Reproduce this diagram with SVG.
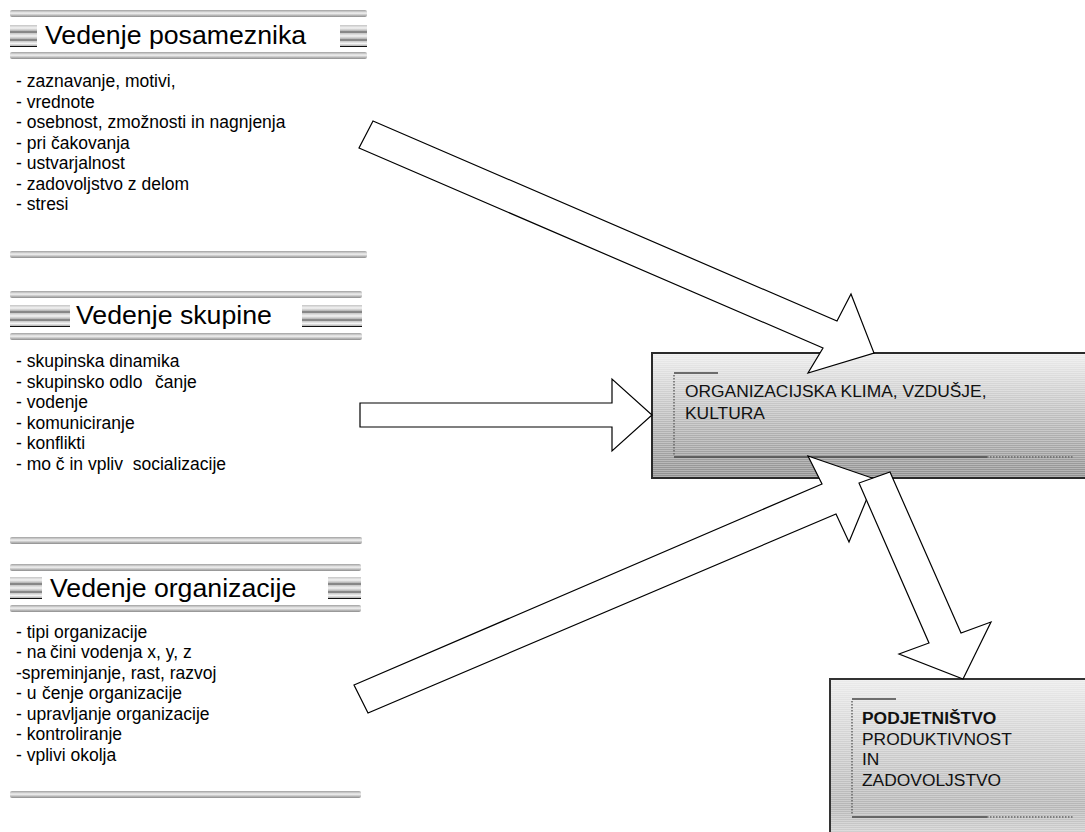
<svg xmlns="http://www.w3.org/2000/svg" width="1085" height="832" viewBox="0 0 1085 832">
  <defs>
    <!-- rounded metallic bar used for section rules -->
    <linearGradient id="tube" x1="0" y1="0" x2="0" y2="1">
      <stop offset="0" stop-color="#a0a0a0"/>
      <stop offset="0.45" stop-color="#f2f2f2"/>
      <stop offset="1" stop-color="#8c8c8c"/>
    </linearGradient>
    <!-- lighter variant for the small title ornaments -->
    <linearGradient id="tubeLight" x1="0" y1="0" x2="0" y2="1">
      <stop offset="0" stop-color="#c4c4c4"/>
      <stop offset="0.5" stop-color="#f4f4f4"/>
      <stop offset="1" stop-color="#b0b0b0"/>
    </linearGradient>
    <linearGradient id="fillKlima" x1="0" y1="0" x2="0" y2="1">
      <stop offset="0" stop-color="#ededed"/>
      <stop offset="1" stop-color="#8f8f8f"/>
    </linearGradient>
    <linearGradient id="fillPodj" x1="0" y1="0" x2="0" y2="1">
      <stop offset="0" stop-color="#ebebeb"/>
      <stop offset="0.8" stop-color="#b6b6b6"/>
      <stop offset="1" stop-color="#d6d6d6"/>
    </linearGradient>
    <!-- fine horizontal scan lines on the boxes -->
    <pattern id="scan" width="4" height="2" patternUnits="userSpaceOnUse">
      <rect width="4" height="1" fill="#ffffff" opacity="0.3"/>
    </pattern>
  </defs>
  <style>
    .bar { fill: url(#tube); }
    .orn { fill: url(#tubeLight); }
    .rule { stroke: #111; stroke-width: 1; }
    .title { font-family: "Liberation Sans", Arial, sans-serif; font-size: 26.7px; fill: #000; }
    .item { font-family: "Liberation Sans", Arial, sans-serif; font-size: 17.5px; fill: #000; }
    .boxtxt { font-family: "Liberation Sans", Arial, sans-serif; font-size: 17.4px; fill: #111; }
    .boxline { stroke: #444; stroke-width: 1.5; fill: none; }
    .boxdot { stroke: #666; stroke-width: 1.5; stroke-dasharray: 1.5 1.5; fill: none; }
    .arrow { fill: #fff; stroke: #000; stroke-width: 1.2; stroke-linejoin: miter; }
  </style>

  <rect width="1085" height="832" fill="#fff"/>

  <!-- section: individual -->
  <g id="posameznik">
    <rect class="bar" x="10" y="10" width="357" height="7" rx="2"/>
    <g>
      <rect class="orn" x="10" y="25" width="27" height="6"/>
      <line class="rule" x1="10" y1="32" x2="37" y2="32"/>
      <rect class="orn" x="10" y="33" width="27" height="6"/>
      <line class="rule" x1="10" y1="40" x2="37" y2="40"/>
      <rect class="orn" x="10" y="41" width="27" height="5"/>
      <line class="rule" x1="10" y1="46.5" x2="37" y2="46.5"/>
    </g>
    <g>
      <rect class="orn" x="340" y="25" width="27" height="6"/>
      <line class="rule" x1="340" y1="32" x2="367" y2="32"/>
      <rect class="orn" x="340" y="33" width="27" height="6"/>
      <line class="rule" x1="340" y1="40" x2="367" y2="40"/>
      <rect class="orn" x="340" y="41" width="27" height="5"/>
      <line class="rule" x1="340" y1="46.5" x2="367" y2="46.5"/>
    </g>
    <text class="title" x="45" y="44">Vedenje posameznika</text>
    <rect class="bar" x="10" y="52" width="357" height="7" rx="2"/>
    <text class="item" x="16" y="87">- zaznavanje, motivi,</text>
    <text class="item" x="16" y="107.5">- vrednote</text>
    <text class="item" x="16" y="128">- osebnost, zmožnosti in nagnjenja</text>
    <text class="item" x="16" y="148.5">- pri čakovanja</text>
    <text class="item" x="16" y="169">- ustvarjalnost</text>
    <text class="item" x="16" y="189.5">- zadovoljstvo z delom</text>
    <text class="item" x="16" y="210">- stresi</text>
    <rect class="bar" x="10" y="251" width="357" height="7" rx="2"/>
  </g>

  <!-- section: group -->
  <g id="skupina">
    <rect class="bar" x="10" y="291" width="352" height="7" rx="2"/>
    <g>
      <rect class="orn" x="10" y="305" width="60" height="6"/>
      <line class="rule" x1="10" y1="312" x2="70" y2="312"/>
      <rect class="orn" x="10" y="313" width="60" height="6"/>
      <line class="rule" x1="10" y1="320" x2="70" y2="320"/>
      <rect class="orn" x="10" y="321" width="60" height="5"/>
      <line class="rule" x1="10" y1="326.5" x2="70" y2="326.5"/>
    </g>
    <g>
      <rect class="orn" x="302" y="305" width="60" height="6"/>
      <line class="rule" x1="302" y1="312" x2="362" y2="312"/>
      <rect class="orn" x="302" y="313" width="60" height="6"/>
      <line class="rule" x1="302" y1="320" x2="362" y2="320"/>
      <rect class="orn" x="302" y="321" width="60" height="5"/>
      <line class="rule" x1="302" y1="326.5" x2="362" y2="326.5"/>
    </g>
    <text class="title" x="76" y="324">Vedenje skupine</text>
    <rect class="bar" x="10" y="333" width="352" height="7" rx="2"/>
    <text class="item" x="16" y="367">- skupinska dinamika</text>
    <text class="item" x="16" y="387.5">- skupinsko odlo<tspan x="155">čanje</tspan></text>
    <text class="item" x="16" y="408">- vodenje</text>
    <text class="item" x="16" y="428.5">- komuniciranje</text>
    <text class="item" x="16" y="449">- konflikti</text>
    <text class="item" x="16" y="469.5" xml:space="preserve">- mo č in vpliv  socializacije</text>
    <rect class="bar" x="10" y="537" width="352" height="7" rx="2"/>
  </g>

  <!-- section: organisation -->
  <g id="organizacija">
    <rect class="bar" x="10" y="564" width="351" height="7" rx="2"/>
    <g>
      <rect class="orn" x="10" y="577" width="32" height="6"/>
      <line class="rule" x1="10" y1="584" x2="42" y2="584"/>
      <rect class="orn" x="10" y="585" width="32" height="6"/>
      <line class="rule" x1="10" y1="592" x2="42" y2="592"/>
      <rect class="orn" x="10" y="593" width="32" height="5"/>
      <line class="rule" x1="10" y1="598.5" x2="42" y2="598.5"/>
    </g>
    <g>
      <rect class="orn" x="328" y="577" width="33" height="6"/>
      <line class="rule" x1="328" y1="584" x2="361" y2="584"/>
      <rect class="orn" x="328" y="585" width="33" height="6"/>
      <line class="rule" x1="328" y1="592" x2="361" y2="592"/>
      <rect class="orn" x="328" y="593" width="33" height="5"/>
      <line class="rule" x1="328" y1="598.5" x2="361" y2="598.5"/>
    </g>
    <text class="title" x="50" y="597">Vedenje organizacije</text>
    <rect class="bar" x="10" y="605" width="351" height="7" rx="2"/>
    <text class="item" x="16" y="637.5">- tipi organizacije</text>
    <text class="item" x="16" y="658">- na<tspan x="50">čini vodenja x, y, z</tspan></text>
    <text class="item" x="16" y="678.5">-spreminjanje, rast, razvoj</text>
    <text class="item" x="16" y="699">- u<tspan x="42">čenje organizacije</tspan></text>
    <text class="item" x="16" y="719.5">- upravljanje organizacije</text>
    <text class="item" x="16" y="740">- kontroliranje</text>
    <text class="item" x="16" y="760.5">- vplivi okolja</text>
    <rect class="bar" x="10" y="791" width="351" height="7" rx="2"/>
  </g>

  <!-- box: climate / culture -->
  <g id="klima">
    <rect x="652" y="353" width="440" height="125" fill="url(#fillKlima)"/>
    <rect x="652" y="353" width="440" height="125" fill="url(#scan)"/>
    <rect x="652" y="353" width="440" height="125" fill="none" stroke="#2a2a2a" stroke-width="2"/>
    <line class="boxline" x1="674" y1="373" x2="718" y2="373"/>
    <line class="boxdot" x1="674" y1="375" x2="674" y2="455"/>
    <line class="boxline" x1="674" y1="457" x2="987" y2="457"/>
    <line class="boxdot" x1="987" y1="457" x2="1073" y2="457"/>
    <text class="boxtxt" x="685" y="397">ORGANIZACIJSKA KLIMA, VZDUŠJE,</text>
    <text class="boxtxt" x="685" y="419">KULTURA</text>
  </g>

  <!-- box: entrepreneurship -->
  <g id="podjetnistvo">
    <rect x="830" y="679" width="262" height="160" fill="url(#fillPodj)"/>
    <rect x="830" y="679" width="262" height="160" fill="url(#scan)"/>
    <rect x="830" y="679" width="262" height="160" fill="none" stroke="#333" stroke-width="2"/>
    <line class="boxline" x1="852" y1="699" x2="896" y2="699"/>
    <line class="boxdot" x1="852" y1="701" x2="852" y2="815"/>
    <line class="boxline" x1="852" y1="817" x2="987" y2="817"/>
    <line class="boxdot" x1="987" y1="817" x2="1073" y2="817"/>
    <text class="boxtxt" x="862" y="724" font-weight="bold">PODJETNIŠTVO</text>
    <text class="boxtxt" x="862" y="745">PRODUKTIVNOST</text>
    <text class="boxtxt" x="862" y="765">IN</text>
    <text class="boxtxt" x="862" y="786">ZADOVOLJSTVO</text>
  </g>

  <!-- block arrows -->
  <g id="connectors">
    <polygon class="arrow" points="373,121 837,321 851,294 874,353 808,373 823,348 359,148"/>
    <polygon class="arrow" points="360,403 612,403 612,379 652,415 612,451 612,427 360,427"/>
    <polygon class="arrow" points="354,685 822,484 808,456 875,479 849,542 836,514 368,713"/>
    <polygon class="arrow" points="859,483 929,643 899,654 963,679 991,622 961,633 890,472"/>
  </g>
</svg>
